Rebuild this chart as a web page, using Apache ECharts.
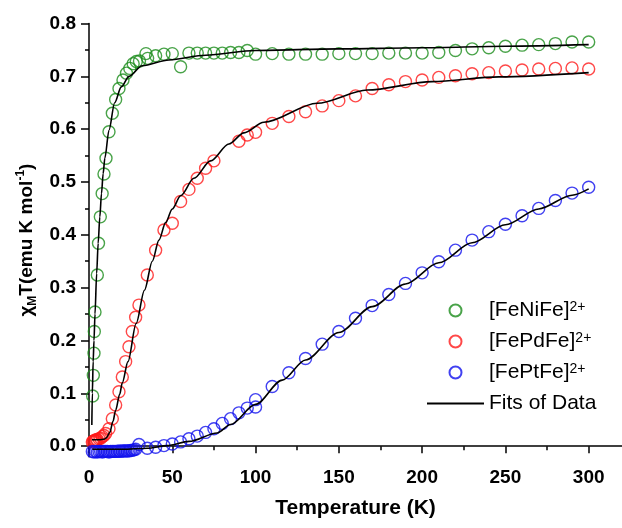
<!DOCTYPE html>
<html>
<head>
<meta charset="utf-8">
<script src="https://cdn.jsdelivr.net/npm/echarts@6/dist/echarts.min.js"></script>
<style>html,body{margin:0;padding:0;background:#fff}#chi{width:622px;height:528px}</style>
</head>
<body>
<div id="chi"></div>
<script>
// tick positions
var xTicks = [0, 50, 100, 150, 200, 250, 300];
var xMinor = [25, 75, 125, 175, 225, 275];
var yTicks = [0, 0.1, 0.2, 0.3, 0.4, 0.5, 0.6, 0.7, 0.8];
var yMinor = [0.05, 0.15, 0.25, 0.35, 0.45, 0.55, 0.65, 0.75];

// [FeNiFe]2+ data
var tNi = [2.2, 2.6, 3.0, 3.2, 3.6, 5.0, 5.7, 6.8, 7.9, 9.0, 10.2, 12, 14, 16, 18, 20.4, 22.5, 24.5, 26.5, 28.4, 30.3, 34.2, 35.2, 40, 45, 50, 55,
           60, 65, 70, 75, 80, 85, 90, 95, 100, 110, 120, 130, 140, 150, 160, 170, 180, 190, 200, 210, 220, 230, 240, 250, 260, 270, 280, 290, 300];
var chiNi = [0.095, 0.134, 0.176, 0.217, 0.254, 0.324, 0.384, 0.434, 0.478, 0.515, 0.545, 0.595, 0.630, 0.656, 0.677, 0.693, 0.706, 0.715, 0.724, 0.728, 0.729, 0.743, 0.734, 0.739, 0.742, 0.743, 0.718,
             0.744, 0.744, 0.744, 0.744, 0.744, 0.745, 0.745, 0.749, 0.742, 0.743, 0.742, 0.742, 0.742, 0.743, 0.743, 0.743, 0.744, 0.744, 0.744, 0.745, 0.749, 0.752, 0.754, 0.757, 0.759, 0.760, 0.762, 0.765, 0.765];

// [FePdFe]2+ data
var tPd = [2, 2.5, 3, 3.5, 4, 4.5, 5, 6, 7, 8, 9, 10, 12, 14, 16, 18, 20, 22, 24, 26, 28, 30, 35, 40, 45, 50, 55, 60, 65, 70, 75,
           90, 95, 100, 110, 120, 130, 140, 150, 160, 170, 180, 190, 200, 210, 220, 230, 240, 250, 260, 270, 280, 290, 300];
var chiPd = [0.008, 0.009, 0.010, 0.011, 0.010, 0.012, 0.012, 0.014, 0.015, 0.018, 0.020, 0.024, 0.033, 0.052, 0.078, 0.103, 0.131, 0.160, 0.188, 0.217, 0.244, 0.267, 0.324, 0.371, 0.409, 0.422, 0.463, 0.486, 0.507, 0.526, 0.540,
             0.577, 0.589, 0.594, 0.611, 0.624, 0.633, 0.644, 0.654, 0.663, 0.677, 0.684, 0.690, 0.693, 0.698, 0.701, 0.705, 0.707, 0.710, 0.712, 0.714, 0.715, 0.716, 0.714];

// [FePtFe]2+ data
var tPt = [2, 3, 4, 5, 6, 7, 8, 9, 10, 11, 12, 13, 14, 15, 16, 17, 18, 19, 20, 21, 22, 23, 24, 25, 26, 27, 28, 30, 35, 40, 45, 50, 55, 60, 65, 70, 75, 80, 85, 90, 95, 100, 100,
           110, 120, 130, 140, 150, 160, 170, 180, 190, 200, 210, 220, 230, 240, 250, 260, 270, 280, 290, 300];
var chiPt = [-0.010, -0.011, -0.010, -0.011, -0.010, -0.010, -0.011, -0.010, -0.010, -0.010, -0.011, -0.010, -0.010, -0.010, -0.010, -0.010, -0.009, -0.010, -0.009, -0.009, -0.009, -0.009, -0.009, -0.008, -0.008, -0.007, -0.006,
             0.003, -0.004, -0.002, 0.001, 0.004, 0.008, 0.014, 0.019, 0.026, 0.033, 0.043, 0.052, 0.063, 0.072, 0.088, 0.074,
             0.113, 0.139, 0.166, 0.193, 0.217, 0.242, 0.266, 0.287, 0.308, 0.328, 0.349, 0.371, 0.390, 0.406, 0.420, 0.436, 0.450, 0.465, 0.479, 0.490];

// fit curves
var tFitNi = [1.7, 2, 2.5, 3, 3.6, 4.6, 5.5, 6.5, 7.5, 8.5, 9.5, 12, 15.4, 19.4, 24, 32, 48, 70, 100, 150, 200, 250, 300];
var fitNi = [0.04, 0.10, 0.16, 0.20, 0.25, 0.327, 0.384, 0.434, 0.478, 0.516, 0.545, 0.598, 0.650, 0.680, 0.700, 0.720, 0.731, 0.740, 0.749, 0.752, 0.754, 0.757, 0.760];
var tFitPd = [1.8, 6, 9, 10.5, 12.5, 14.4, 16, 18.4, 20, 23.4, 28.3, 33.3, 38, 42, 46, 50, 55, 63, 73, 84, 93, 105, 137, 167, 206, 246, 300];
var fitPd = [0.012, 0.012, 0.013, 0.016, 0.026, 0.047, 0.068, 0.098, 0.120, 0.160, 0.232, 0.295, 0.350, 0.390, 0.423, 0.449, 0.474, 0.507, 0.540, 0.572, 0.593, 0.613, 0.649, 0.674, 0.690, 0.699, 0.707];
var tFitPt = [2, 20, 35, 47, 60, 77, 85, 100, 116, 130, 150, 170, 190, 210, 230, 250, 270, 290, 300];
var fitPt = [-0.006, -0.006, -0.004, 0.001, 0.009, 0.025, 0.041, 0.079, 0.125, 0.163, 0.215, 0.264, 0.307, 0.347, 0.385, 0.419, 0.449, 0.475, 0.487];

var names = ['[FeNiFe]2+', '[FePdFe]2+', '[FePtFe]2+', 'Fits of Data'];

function pairs(xs, ys) {
    return xs.map(function (x, i) { return [x, ys[i]]; });
}

function dots(name, xs, ys, color) {
    return {
        name: name, type: 'scatter', symbol: 'circle', symbolSize: 12,
        itemStyle: {color: 'rgba(255,255,255,0)', borderColor: color, borderWidth: 1.4},
        data: pairs(xs, ys)
    };
}

function fit(xs, ys) {
    return {
        name: names[3], type: 'line', showSymbol: false, symbol: 'none', z: 5,
        smooth: 0.3, smoothMonotone: 'x',
        lineStyle: {color: '#000', width: 1.6}, itemStyle: {color: '#000'},
        data: pairs(xs, ys)
    };
}

var font = 'Liberation Sans, Arial, sans-serif';
var axisLine = {lineStyle: {color: '#000', width: 1.5}};

var myChart = echarts.init(document.getElementById('chi'));
option = {
    animation: false,
    grid: {left: 89, right: -7, top: 23.5, bottom: 71.3},
    legend: {
        data: [names[0], names[1], names[2],
               {name: names[3], itemStyle: {color: 'rgba(0,0,0,0)', borderWidth: 0, opacity: 0}}],
        orient: 'vertical',
        left: 421, top: 295,
        itemWidth: 57, itemHeight: 12, itemGap: 10,
        formatter: function (n) { return n.replace('2+', '{sup|2+}'); },
        textStyle: {
            fontFamily: font, fontSize: 21, color: '#000',
            rich: {sup: {fontFamily: font, fontSize: 14, color: '#000', verticalAlign: 'top', lineHeight: 12}}
        }
    },
    xAxis: [{
        type: 'value', min: 0, max: 320,
        name: 'Temperature (K)', nameLocation: 'middle', nameGap: 41,
        nameTextStyle: {fontFamily: font, fontSize: 21, fontWeight: 'bold', color: '#000'},
        axisLine: axisLine,
        axisTick: {customValues: xTicks, length: 7, lineStyle: {color: '#000', width: 1.5}},
        axisLabel: {customValues: xTicks, margin: 12, fontFamily: font, fontSize: 19, fontWeight: 'bold', color: '#000'},
        splitLine: {show: false}
    }, {
        type: 'value', min: 0, max: 320, position: 'bottom',
        axisLine: {show: false},
        axisTick: {customValues: xMinor, length: 4, lineStyle: {color: '#000', width: 1.5}},
        axisLabel: {show: false},
        splitLine: {show: false}
    }],
    yAxis: [{
        type: 'value', min: -0.02, max: 0.8,
        name: '{a|χ}{sub|M}{a|T(emu K mol}{sup|-1}{a|)}', nameLocation: 'middle', nameGap: 50, nameRotate: 90,
        nameTextStyle: {
            fontFamily: font, fontSize: 19, fontWeight: 'bold', color: '#000',
            rich: {
                a: {fontFamily: font, fontSize: 19, fontWeight: 'bold', color: '#000', lineHeight: 24},
                sub: {fontFamily: font, fontSize: 12, fontWeight: 'bold', color: '#000', verticalAlign: 'bottom', lineHeight: 12},
                sup: {fontFamily: font, fontSize: 12, fontWeight: 'bold', color: '#000', verticalAlign: 'top', lineHeight: 12}
            }
        },
        axisLine: axisLine,
        axisTick: {customValues: yTicks, length: 8, lineStyle: {color: '#000', width: 1.5}},
        axisLabel: {customValues: yTicks, margin: 13, fontFamily: font, fontSize: 19, fontWeight: 'bold', color: '#000',
                    formatter: function (v) { return v.toFixed(1); }},
        splitLine: {show: false}
    }, {
        type: 'value', min: -0.02, max: 0.8, position: 'left',
        axisLine: {show: false},
        axisTick: {customValues: yMinor, length: 4, lineStyle: {color: '#000', width: 1.5}},
        axisLabel: {show: false},
        splitLine: {show: false}
    }],
    series: [
        dots(names[0], tNi, chiNi, '#1b8c1b'),
        dots(names[1], tPd, chiPd, '#ff1a1a'),
        dots(names[2], tPt, chiPt, '#1212ee'),
        fit(tFitNi, fitNi),
        fit(tFitPd, fitPd),
        fit(tFitPt, fitPt)
    ]
};
myChart.setOption(option);
window.onresize = myChart.resize;
</script>
</body>
</html>
